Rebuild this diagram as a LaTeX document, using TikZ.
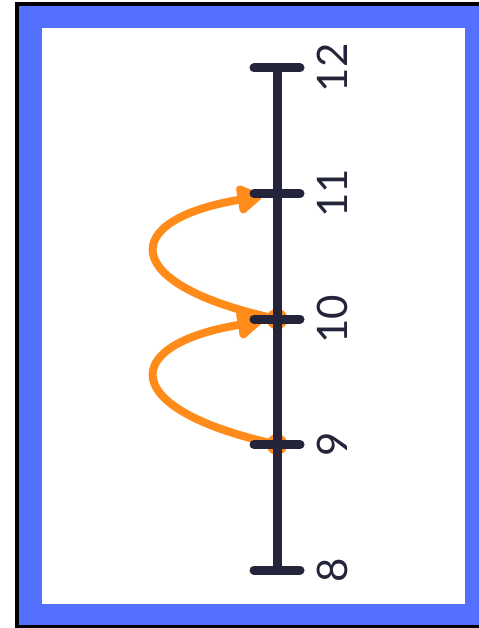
\documentclass[tikz,border=0pt]{standalone}
\usepackage{fontspec}
\setmainfont{Lato}
\usetikzlibrary{arrows.meta}
\definecolor{frameblue}{HTML}{5470FF}
\definecolor{axisdark}{HTML}{24253A}
\definecolor{hoporange}{HTML}{FF8C1A}
\tikzset{
  axisline/.style={draw=axisdark, line width=9pt, line cap=round},
  hop/.style={draw=hoporange, line width=8pt, line cap=round, -{Triangle[length=28pt,width=32pt,round]}},
  hopdot/.style={fill=hoporange, draw=none},
  numlabel/.style={text=axisdark, font=\fontsize{42}{48}\selectfont, rotate=90, inner sep=0pt}
}
\begin{document}
\begin{tikzpicture}[x=1pt,y=-1pt]
\useasboundingbox (0,0) rectangle (479,628);
\begin{scope}
\clip (0,0) rectangle (479,628);
\fill[black] (15,2) rectangle (490,640);
\fill[frameblue] (19,6) rectangle (490,625);
\fill[white] (42,28) rectangle (465,604);
\end{scope}
% tick coordinates
\coordinate (t8) at (277,570);
\coordinate (t9) at (277,444.5);
\coordinate (t10) at (277,319);
\coordinate (t11) at (277,193.5);
\coordinate (t12) at (277,68);
% arrow tips
\coordinate (a10) at (262,321);
\coordinate (a11) at (262,196);
% hops
\fill[hopdot] (t9) circle (10.5);
\fill[hopdot] (t10) circle (10.5);
\draw[hop] (t9) .. controls (118,410) and (118,345) .. (a10);
\draw[hop] (t10) .. controls (118,285) and (118,220) .. (a11);
% axis
\draw[axisline] (t8) -- (t12);
\foreach \t in {t8,t9,t10,t11,t12}{
  \draw[axisline] ([xshift=-23pt]\t) -- ([xshift=23pt]\t);
}
% labels
\node[numlabel] (l8) at (332,570) {8};
\node[numlabel] (l9) at (332,444.5) {9};
\node[numlabel] (l10) at (332,319) {10};
\node[numlabel] (l11) at (332,193.5) {11};
\node[numlabel] (l12) at (332,68) {12};
\end{tikzpicture}
\end{document}
